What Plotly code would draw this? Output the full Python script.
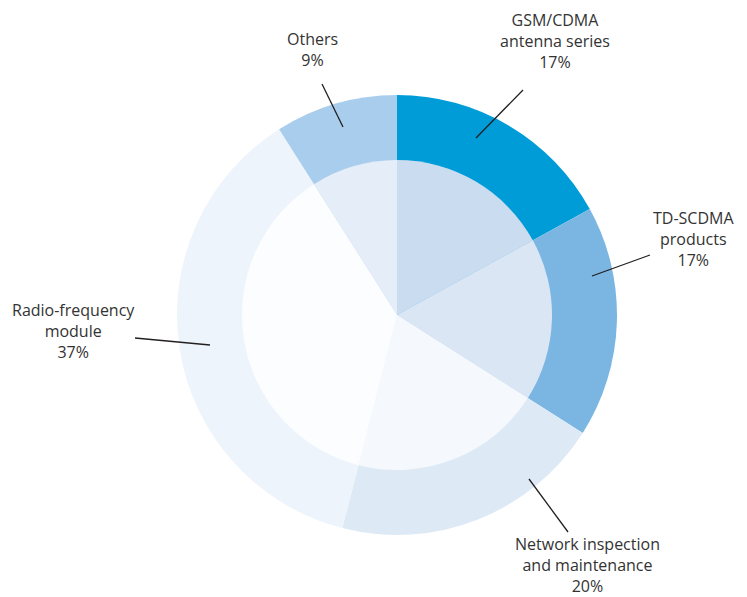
import plotly.graph_objects as go

categories = ["GSM/CDMA<br>antenna series", "TD-SCDMA<br>products", "Network inspection<br>and maintenance",
              "Radio-frequency<br>module", "Others"]
values = [17, 17, 20, 37, 9]
outer_colors = ["#009cd8", "#7bb6e3", "#ddeaf6", "#eef4fb", "#a9cdec"]
inner_colors = ["#c9dcf0", "#dbe6f5", "#f5f8fc", "#fcfdff", "#e5edf8"]

W, H = 747, 597
def px(x): return x / W
def py(y): return 1 - y / H

cx, cy, R_out, R_in = 397, 315, 220, 155

fig = go.Figure()
fig.add_trace(go.Pie(
    labels=categories, values=values, sort=False, direction="clockwise", rotation=0,
    marker=dict(colors=outer_colors, line=dict(width=0)), textinfo="none", hoverinfo="none",
    domain=dict(x=[px(cx - R_out), px(cx + R_out)], y=[py(cy + R_out), py(cy - R_out)]),
    showlegend=False,
))
fig.add_trace(go.Pie(
    labels=categories, values=values, sort=False, direction="clockwise", rotation=0,
    marker=dict(colors=inner_colors, line=dict(width=0)), textinfo="none", hoverinfo="none",
    domain=dict(x=[px(cx - R_in), px(cx + R_in)], y=[py(cy + R_in), py(cy - R_in)]),
    showlegend=False,
))

# label positions (text center x, center y) and leader lines (x0,y0,x1,y1) in pixels
label_pos = [(555, 41), (693, 239), (587, 565), (73, 331), (312, 50)]
leader = [(523, 90, 476, 138), (650, 255, 592, 276), (529, 479, 568, 532),
          (135, 338, 210, 345), (322, 84, 343, 127)]

for cat, v, (lx, ly), (x0, y0, x1, y1) in zip(categories, values, label_pos, leader):
    fig.add_annotation(x=px(lx), y=py(ly), xref="paper", yref="paper",
                       xanchor="center", yanchor="middle",
                       text=f"{cat}<br>{v}%", showarrow=False, align="center",
                       font=dict(family="Open Sans", size=16, color="#333333"))
    fig.add_shape(type="line", xref="paper", yref="paper",
                  x0=px(x0), y0=py(y0), x1=px(x1), y1=py(y1),
                  line=dict(color="#231f20", width=1.3))

fig.update_layout(width=W, height=H, margin=dict(l=0, r=0, t=0, b=0),
                  paper_bgcolor="white", plot_bgcolor="white")
fig.write_html("out.html", config={"displayModeBar": False},
               post_script="document.body.style.margin='0';document.body.style.overflow='hidden';")
